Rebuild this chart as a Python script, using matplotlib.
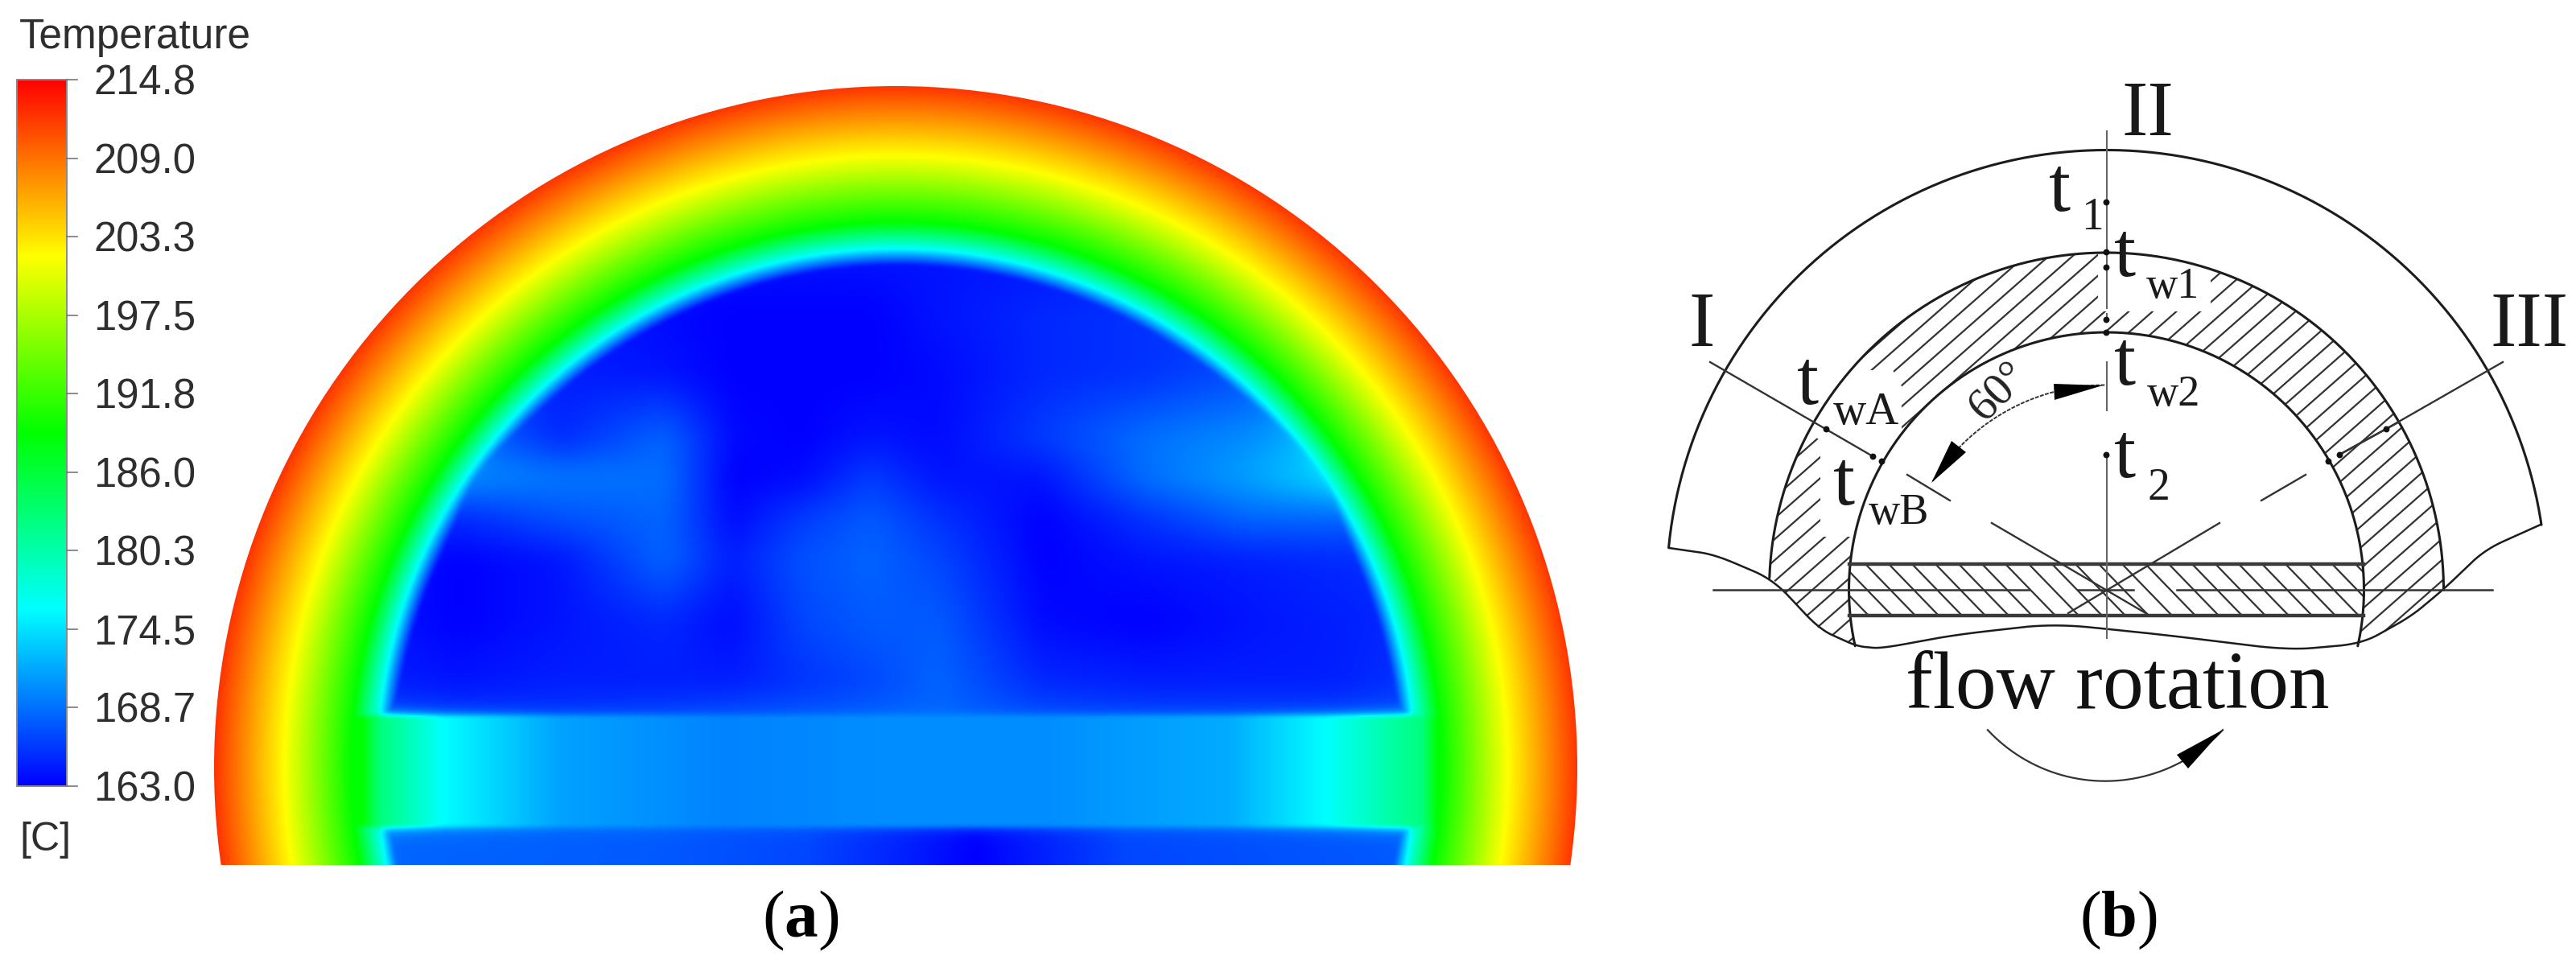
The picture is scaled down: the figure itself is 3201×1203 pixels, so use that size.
import numpy as np
import matplotlib
matplotlib.use("Agg")
import matplotlib.pyplot as plt
from matplotlib.colors import LinearSegmentedColormap, Normalize
from matplotlib.patches import Circle, Rectangle, Polygon

plt.rcParams['mathtext.fontset'] = 'custom'
plt.rcParams['mathtext.rm'] = 'Liberation Serif'
plt.rcParams['mathtext.bf'] = 'Liberation Serif:bold'

# ---------- colour scale
T_MIN, T_MAX = 163.0, 214.8
scale_labels = ["214.8", "209.0", "203.3", "197.5", "191.8", "186.0", "180.3", "174.5", "168.7", "163.0"]
scale_colors = ["#0000ff", "#00ffff", "#00ff00", "#ffff00", "#ff0000"]

# ---------- temperature readings (fraction of the colour scale)
ring_radius = [600, 622, 646, 677, 760, 847, 860]
ring_level = [0.0, 0.0, 0.27, 0.50, 0.75, 0.95, 0.96]

core_x = [474, 568, 696, 825, 910, 996, 1081, 1166, 1295, 1423, 1551, 1654, 1748]
core_y = [315, 391, 467, 544, 594, 645, 696, 772, 848, 883]
core_level = [
    [.02, .02, .02, .02, .02, .02, .02, .02, .02, .02, .02, .02, .02],
    [.04, .04, .03, .01, .00, .00, .00, .02, .04, .05, .05, .06, .06],
    [.06, .05, .03, .02, .00, .00, .00, .01, .04, .05, .08, .10, .10],
    [.13, .12, .04, .10, .01, .00, .02, .01, .06, .11, .14, .20, .22],
    [.15, .14, .12, .11, .00, .01, .06, .02, .02, .11, .16, .22, .22],
    [.06, .04, .08, .10, .01, .06, .09, .05, .00, .05, .10, .10, .08],
    [.02, .00, .02, .10, .03, .08, .10, .07, .00, .02, .03, .04, .05],
    [.02, .00, .02, .04, .01, .07, .09, .09, .01, .00, .02, .03, .04],
    [.03, .02, .03, .03, .03, .05, .07, .10, .04, .03, .03, .03, .05],
    [.06, .05, .05, .06, .07, .08, .09, .10, .07, .06, .06, .06, .07],
]
band_x = [450, 472, 551, 694, 900, 1116, 1300, 1529, 1645, 1767, 1785]
band_level = [.50, .38, .25, .16, .13, .14, .14, .17, .25, .38, .50]
lower_x = [473, 800, 1000, 1130, 1210, 1290, 1400, 1760]
lower_level = [.10, .09, .07, .03, .00, .03, .07, .09]

# ---------- schematic readings (figure pixels)
axis_segments = [[163, 383], [390, 400], [450, 510], [567, 793]]
hline_segments = [[2129, 2521], [2582, 2651], [2705, 3097]]
wave_x = [2074, 2130, 2203, 2261, 2307, 2337, 2429, 2552, 2690, 2843, 2935, 2996, 3038, 3088, 3157]
wave_y = [681, 689, 720, 782, 803, 806, 789, 775, 789, 808, 800, 766, 731, 683, 652]
dot_x = [2617, 2269, 2327, 2338, 2617, 2617, 2617, 2617, 2617, 2907, 2965, 2893]
dot_y = [251, 533, 567, 573, 313, 332, 397, 413, 565, 565, 533, 573]
section_lines = [
    [(2125, 450), (2327, 567)], [(2370, 590), (2423, 622)], [(2475, 650), (2668, 763)],
    [(3110, 450), (2965, 533)], [(2965, 533), (2907, 565)], [(2980, 525), (2907, 565)],
    [(2865, 590), (2810, 622)], [(2758, 650), (2570, 762)],
]
labels = [
    ("II", 2636, 168, 70), ("I", 2098, 430, 70), ("III", 3094, 430, 70),
    ("t", 2546, 262, 70), ("1", 2586, 285, 40),
    ("t", 2627, 343, 70), ("w1", 2667, 370, 39),
    ("t", 2627, 478, 70), ("w2", 2668, 504, 39),
    ("t", 2233, 502, 70), ("wA", 2278, 527, 41),
    ("t", 2278, 627, 70), ("wB", 2322, 651, 39),
    ("t", 2627, 593, 70), ("2", 2668, 621, 40),
]
# hatching left blank round the labels
clear_left = [(2262, 547), (2262, 667), (2310, 667), (2363, 533), (2363, 480),
              (2352, 460), (2323, 460), (2277, 470), (2250, 540)]
clear_top = [(2607, 300), (2747, 300), (2747, 387), (2607, 387)]

# ---------- figure
fig = plt.figure(figsize=(3201.01 / 100, 1203.01 / 100), dpi=100, facecolor="white")
ax = fig.add_axes([0, 0, 1, 1])
cmap = LinearSegmentedColormap.from_list("ansys", scale_colors, N=512)
norm = Normalize(T_MIN, T_MAX)
to_temp = lambda c: T_MIN + (T_MAX - T_MIN) * np.asarray(c)

# ---------- field a
CX, CY, R_OUT, R_IN = 1113.0, 954.0, 847.0, 646.0
BAND_TOP, BAND_BOT = 892.0, 1025.0
gx = np.arange(260, 1970, 2.0)
gy = np.arange(100, 1076, 2.0)
X, Y = np.meshgrid(gx, gy)
Rr = np.hypot(X - CX, Y - CY)


def box(a, n, axis):
    k = np.ones(2 * n + 1) / (2 * n + 1)
    pad = [(n, n) if i == axis else (0, 0) for i in range(2)]
    b = np.pad(a, pad, mode="edge")
    return np.apply_along_axis(lambda v: np.convolve(v, k, mode="valid"), axis, b)


rows = np.array([np.interp(gx, core_x, r) for r in core_level])
core = np.array([np.interp(gy, core_y, rows[:, j]) for j in range(len(gx))]).T
for _ in range(2):
    core = box(box(core, 7, 0), 7, 1)

band = np.interp(X, band_x, band_level)
lower = np.interp(X, lower_x, lower_level)
h_wall = np.exp(-np.clip(R_IN - Rr, 0, None) / 4.5)
upper = core + (0.27 - core) * h_wall
upper = upper + (band - upper) * np.exp(-np.clip(BAND_TOP - Y, 0, None) / 6.0)
low = lower + (0.27 - lower) * h_wall
low = low + (band - low) * np.exp(-np.clip(Y - BAND_BOT, 0, None) / 6.0)
s1 = 1 / (1 + np.exp(-(Y - BAND_TOP) / 1.5))
s2 = 1 / (1 + np.exp(-(Y - BAND_BOT) / 1.5))
region = upper * (1 - s1) + band * s1 * (1 - s2) + low * s2
field = np.maximum(np.interp(Rr, ring_radius, ring_level), region)
field = box(box(field, 1, 0), 1, 1)

im = ax.imshow(to_temp(field), cmap=cmap, norm=norm, origin="upper", aspect="auto",
               extent=(gx[0] - 1, gx[-1] + 1, gy[-1] + 1, gy[0] - 1), interpolation="bilinear")
im.set_clip_path(Circle((CX, CY), R_OUT, transform=ax.transData))

# ---------- colour bar
grad = to_temp(np.linspace(1, 0, 512))[:, None]
ax.imshow(grad, cmap=cmap, norm=norm, aspect="auto", extent=(21, 83, 977, 99), interpolation="bilinear")
ax.add_patch(Rectangle((21, 99), 62, 878, fill=False, ec="#8a8a8a", lw=1.4))
tick_y = np.linspace(99, 977, len(scale_labels))
for lab, yy in zip(scale_labels, tick_y):
    ax.plot([83, 96], [yy, yy], color="#777777", lw=1.2)
    ax.text(243, yy + 5, lab, ha="right", va="center", family="Liberation Sans", fontsize=36.5, color="#2e2e2e")
ax.text(24, 46, "Temperature", ha="left", va="center", family="Liberation Sans", fontsize=37, color="#2e2e2e")
ax.text(24, 1044, "[C]", ha="left", va="center", family="Liberation Sans", fontsize=36, color="#2e2e2e")

# ---------- schematic b
INK = "#1c1c1c"
C2X, C2Y, R1, R2, R3 = 2617.5, 733.0, 546.5, 419.0, 320.0


def arc(cx, cy, r, a0, a1, n=240):
    a = np.radians(np.linspace(a0, a1, n))
    return cx + r * np.cos(a), cy - r * np.sin(a)


# ring hatch, clipped to the ring
ox, oy = arc(C2X, C2Y, R2, 178, 0)
ix, iy = arc(C2X, C2Y, R3, -12.6, 192.6)
ring_poly = np.vstack([
    np.c_[ox, oy], [[3038, 731], [2996, 766], [2935, 800]],
    np.c_[ix, iy], [[2307, 803], [2261, 782], [2203, 720]],
])
ring_patch = Polygon(ring_poly, closed=True, fc="none", ec="none", transform=ax.transData)
ax.add_patch(ring_patch)
for x0 in np.arange(1500, 3300, 29.6):
    l, = ax.plot([x0, x0 + 700 / 0.88], [900, 200], color="#333333", lw=1.6, zorder=1)
    l.set_clip_path(ring_patch)

# plate hatch
plate = Rectangle((2298, 701), 639, 64, fc="none", ec="none")
ax.add_patch(plate)
for x0 in np.arange(2231, 2960, 29.0):
    l, = ax.plot([x0, x0 + 62], [701, 765], color="#333333", lw=1.6, zorder=1)
    l.set_clip_path(plate)

# clearings round the subscripts
ax.add_patch(Polygon(clear_left, closed=True, fc="white", ec="none", zorder=2))
ax.add_patch(Polygon(clear_top, closed=True, fc="white", ec="none", zorder=2))

# outlines
for r, a0, a1 in [(R1, 174.5, 8.5), (R2, 178, 0), (R3, 192.6, -12.6)]:
    x, y = arc(C2X, C2Y, r, a0, a1)
    ax.plot(x, y, color=INK, lw=2.2, zorder=3, solid_capstyle="round")

# smooth wave through the read points
t = np.arange(len(wave_x))
tt = np.linspace(0, t[-1], 400)
wx = box(np.interp(tt, t, wave_x)[None, :], 9, 1)[0]
wy = box(np.interp(tt, t, wave_y)[None, :], 9, 1)[0]
wx[:10] = np.interp(tt[:10], t, wave_x); wy[:10] = np.interp(tt[:10], t, wave_y)
wx[-10:] = np.interp(tt[-10:], t, wave_x); wy[-10:] = np.interp(tt[-10:], t, wave_y)
ax.plot(wx, wy, color=INK, lw=1.8, zorder=3)

ax.plot([2298, 2937], [701, 701], color="#3a3a3a", lw=3.2, zorder=3)
ax.plot([2298, 2937], [765, 765], color="#3a3a3a", lw=3.2, zorder=3)
for seg in hline_segments:
    ax.plot(seg, [733, 733], color="#333333", lw=1.8, zorder=3)
for seg in axis_segments:
    ax.plot([C2X, C2X], seg, color="#666666", lw=1.5, zorder=3)
for (p0, p1) in section_lines:
    ax.plot([p0[0], p1[0]], [p0[1], p1[1]], color="#333333", lw=1.7, zorder=3)
ax.scatter(dot_x, dot_y, s=32, color="#111111", zorder=4, linewidths=0)

# 60 degree arc and arrow heads
x, y = arc(C2X, C2Y, 254.5, 90.5, 148)
ax.plot(x, y, color="#333333", lw=1.4, ls=(0, (2.5, 0.8)), zorder=3)
ax.add_patch(Polygon([(2613, 479), (2552, 477), (2553, 497)], closed=True, fc="black", ec="none", zorder=4))
ax.add_patch(Polygon([(2400, 600), (2425, 548), (2443, 562)], closed=True, fc="black", ec="none", zorder=4))
ax.text(2483, 487, "60°", rotation=45, ha="center", va="center", family="Liberation Serif",
        fontsize=41, color="#222222", zorder=5)

# rotation arrow
x, y = arc(2616, 771, 199.7, 223, 317)
ax.plot(x, y, color="#333333", lw=1.6, zorder=3)
ax.add_patch(Polygon([(2762, 907), (2705, 938), (2719, 955)], closed=True, fc="black", ec="none", zorder=4))

for s, lx, ly, fs in labels:
    ax.text(lx, ly, s, ha="left", va="baseline", family="Liberation Serif", fontsize=fs, color="#1a1a1a", zorder=5)
ax.text(2368, 880, "flow rotation", ha="left", va="baseline", family="Liberation Serif", fontsize=73,
        color="#111111", zorder=5)

ax.text(995, 1144, r"($\mathbf{a}$)", ha="center", va="center", family="Liberation Serif", fontsize=60, color="black")
ax.text(2632, 1144, r"($\mathbf{b}$)", ha="center", va="center", family="Liberation Serif", fontsize=58, color="black")

ax.set_xlim(0, 3201)
ax.set_ylim(1203, 0)
ax.axis("off")
fig.savefig("out.png", dpi=100, facecolor="white")
